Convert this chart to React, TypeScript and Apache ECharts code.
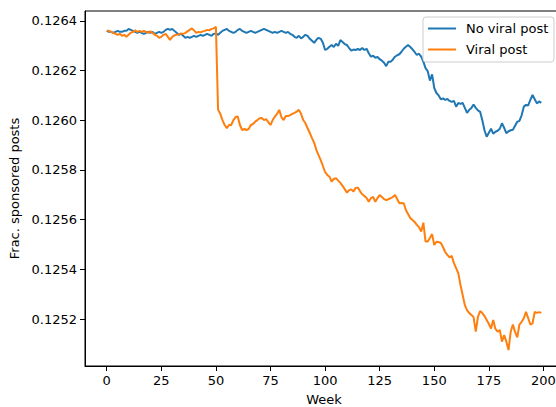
import React, { useEffect, useRef } from "react";
import * as echarts from "echarts";

const weeks: number[] = Array.from({ length: 200 }, (_, i) => i);

const noViralPost: number[] = [
  0.12636, 0.126356, 0.126356, 0.126352, 0.126356, 0.12636, 0.126356, 0.126356, 0.12636, 0.12636,
  0.126368, 0.126364, 0.12636, 0.126356, 0.126352, 0.126356, 0.126352, 0.126348, 0.126352, 0.126356,
  0.126352, 0.126356, 0.126348, 0.126352, 0.126356, 0.126352, 0.126356, 0.126364, 0.126368, 0.126364,
  0.126368, 0.12636, 0.126352, 0.126344, 0.126348, 0.12634, 0.126332, 0.126336, 0.126332, 0.126336,
  0.12634, 0.126336, 0.12634, 0.126344, 0.12634, 0.126344, 0.126348, 0.126344, 0.12634, 0.126348,
  0.12635, 0.126344, 0.126352, 0.12636, 0.126364, 0.126368, 0.12636, 0.126356, 0.126352, 0.126356,
  0.126364, 0.126368, 0.12636, 0.126356, 0.126352, 0.126356, 0.12636, 0.126356, 0.126352, 0.126356,
  0.12636, 0.126364, 0.126368, 0.126364, 0.12636, 0.126356, 0.126352, 0.126356, 0.126352, 0.126356,
  0.12636, 0.126356, 0.126352, 0.126356, 0.126348, 0.126344, 0.126336, 0.126332, 0.12634, 0.12633,
  0.126336, 0.126344, 0.12634, 0.126328, 0.12632, 0.126312, 0.126324, 0.126332, 0.126328, 0.126312,
  0.126283, 0.126288, 0.126296, 0.126303, 0.126295, 0.126308, 0.1263, 0.126323, 0.126315, 0.126307,
  0.126303, 0.126291, 0.12628, 0.126285, 0.126283, 0.126287, 0.126283, 0.126291, 0.126283, 0.126288,
  0.12627, 0.126256, 0.12626, 0.126252, 0.126255, 0.126246, 0.12624, 0.126232, 0.126218, 0.126236,
  0.126236, 0.126244, 0.126256, 0.126262, 0.126266, 0.126276, 0.126288, 0.126296, 0.126303, 0.126295,
  0.126286, 0.126275, 0.126263, 0.126268, 0.126256, 0.126236, 0.12621, 0.126198, 0.12616, 0.126185,
  0.12613, 0.12611, 0.1261, 0.126085, 0.126088, 0.126082, 0.126086, 0.126078, 0.126074, 0.126078,
  0.126055, 0.12607, 0.126066, 0.12607, 0.12605, 0.12603, 0.126042, 0.12605, 0.126064, 0.12605,
  0.12604, 0.126034, 0.126, 0.12596, 0.125934, 0.12595, 0.125966, 0.125946, 0.125954, 0.125958,
  0.125966, 0.125988, 0.12597, 0.125948, 0.125956, 0.12596, 0.125962, 0.125978, 0.125994, 0.125998,
  0.12602, 0.126055, 0.126062, 0.12606, 0.126082, 0.126102, 0.126085, 0.126068, 0.126076, 0.12607,
];

const viralPost: number[] = [
  0.12636, 0.12636, 0.126356, 0.126352, 0.126348, 0.126344, 0.126348, 0.12634, 0.126344, 0.126336,
  0.126344, 0.126352, 0.126356, 0.126362, 0.126356, 0.12636, 0.126356, 0.12636, 0.126356, 0.126352,
  0.126358, 0.126352, 0.126345, 0.12634, 0.126332, 0.126336, 0.126344, 0.126348, 0.126336, 0.126324,
  0.126336, 0.126342, 0.126344, 0.126346, 0.12635, 0.126348, 0.126352, 0.126358, 0.126364, 0.12637,
  0.126362, 0.126352, 0.126356, 0.126354, 0.126358, 0.12636, 0.126364, 0.126362, 0.126368, 0.12637,
  0.126376, 0.126042, 0.126026, 0.126001, 0.125981, 0.125968, 0.125981, 0.125981, 0.126001, 0.126013,
  0.126015, 0.125981, 0.125961, 0.125965, 0.125961, 0.125965, 0.125981, 0.125985, 0.125995, 0.126001,
  0.126008, 0.126009, 0.126001, 0.126005, 0.125993, 0.125981, 0.126001, 0.126015, 0.126026, 0.126042,
  0.126013, 0.126001, 0.126017, 0.126017, 0.126021, 0.126026, 0.12603, 0.126035, 0.126042, 0.126026,
  0.126001, 0.125988, 0.125968, 0.125949, 0.125928, 0.125909, 0.125881, 0.12586, 0.12584, 0.125816,
  0.125792, 0.12578, 0.125773, 0.125753, 0.125764, 0.125767, 0.125757, 0.125748, 0.125736, 0.125723,
  0.125709, 0.125719, 0.125722, 0.125713, 0.125728, 0.125729, 0.125715, 0.125702, 0.125695, 0.125687,
  0.125672, 0.125687, 0.125692, 0.125672, 0.125687, 0.125699, 0.125691, 0.125683, 0.125679, 0.125682,
  0.125687, 0.125691, 0.125699, 0.125683, 0.125666, 0.125667, 0.125666, 0.125639, 0.125623, 0.125607,
  0.125599, 0.125591, 0.125579, 0.12557, 0.125552, 0.125588, 0.125512, 0.125512, 0.125526, 0.125542,
  0.125498, 0.125511, 0.12551, 0.125506, 0.12549, 0.12547, 0.125458, 0.125448, 0.125454, 0.125425,
  0.125405, 0.125385, 0.125337, 0.125297, 0.125256, 0.125236, 0.125224, 0.125216, 0.125208, 0.125149,
  0.125209, 0.125232, 0.125224, 0.125212, 0.125196, 0.12518, 0.125162, 0.125196, 0.12516, 0.125149,
  0.125156, 0.125109, 0.125136, 0.125109, 0.125075, 0.125149, 0.125178, 0.125148, 0.125126, 0.125178,
  0.125189, 0.125203, 0.125229, 0.125204, 0.125178, 0.125183, 0.125229, 0.125225, 0.125228, 0.125225,
];

const xTicks: number[] = [0, 25, 50, 75, 100, 125, 150, 175, 200];
const yTicks: number[] = [0.1252, 0.1254, 0.1256, 0.1258, 0.126, 0.1262, 0.1264];
const seriesNames: string[] = ["No viral post", "Viral post"];
const colors: string[] = ["#1f77b4", "#ff7f0e"];

const FONT = "'DejaVu Sans', sans-serif";

export default function App() {
  const ref = useRef<HTMLDivElement>(null);

  useEffect(() => {
    if (!ref.current) return;
    const chart = echarts.init(ref.current, undefined, { renderer: "svg" });

    const toPairs = (vals: number[]) => weeks.map((w, i) => [w, vals[i]]);

    const legendX = 423;
    const legendY = 17;

    chart.setOption({
      animation: false,
      backgroundColor: "#fff",
      grid: {
        left: 85,
        top: 11,
        width: 478,
        height: 355,
        outerBoundsMode: "none",
        containLabel: false,
        show: true,
        borderColor: "#000",
        borderWidth: 1,
        backgroundColor: "transparent",
      },
      xAxis: {
        type: "value",
        min: -9.95,
        max: 208.95,
        name: "Week",
        nameLocation: "middle",
        nameGap: 27,
        nameTextStyle: { fontFamily: FONT, fontSize: 13, color: "#000" },
        axisLine: { show: true, onZero: false, lineStyle: { color: "#000", width: 1 } },
        axisTick: {
          show: true,
          length: 5,
          lineStyle: { color: "#000", width: 1 },
          customValues: xTicks,
        },
        axisLabel: {
          fontFamily: FONT,
          fontSize: 13,
          color: "#000",
          margin: 8,
          customValues: xTicks,
          formatter: (v: number) => String(v),
        },
        splitLine: { show: false },
      },
      yAxis: {
        type: "value",
        min: 0.125011,
        max: 0.12644,
        name: "Frac. sponsored posts",
        nameLocation: "middle",
        nameGap: 63,
        nameRotate: 90,
        nameTextStyle: { fontFamily: FONT, fontSize: 13, color: "#000" },
        axisLine: { show: true, onZero: false, lineStyle: { color: "#000", width: 1 } },
        axisTick: {
          show: true,
          length: 5,
          lineStyle: { color: "#000", width: 1 },
          customValues: yTicks,
        },
        axisLabel: {
          fontFamily: FONT,
          fontSize: 13,
          color: "#000",
          margin: 8,
          customValues: yTicks,
          formatter: (v: number) => v.toFixed(4),
        },
        splitLine: { show: false },
      },
      series: [
        {
          name: seriesNames[0],
          type: "line",
          data: toPairs(noViralPost),
          showSymbol: false,
          symbol: "none",
          lineStyle: { color: colors[0], width: 2 },
          itemStyle: { color: colors[0] },
        },
        {
          name: seriesNames[1],
          type: "line",
          data: toPairs(viralPost),
          showSymbol: false,
          symbol: "none",
          lineStyle: { color: colors[1], width: 2 },
          itemStyle: { color: colors[1] },
        },
      ],
      graphic: [
        {
          type: "rect",
          shape: { x: legendX, y: legendY, width: 131, height: 45, r: 3 },
          style: { fill: "rgba(255,255,255,0.8)", stroke: "#cccccc", lineWidth: 1 },
          z: 100,
        },
        {
          type: "line",
          shape: { x1: 428, y1: 28.5, x2: 456, y2: 28.5 },
          style: { stroke: colors[0], lineWidth: 2 },
          z: 101,
        },
        {
          type: "line",
          shape: { x1: 428, y1: 49.5, x2: 456, y2: 49.5 },
          style: { stroke: colors[1], lineWidth: 2 },
          z: 101,
        },
        {
          type: "text",
          x: 466,
          y: 28.5,
          style: {
            text: seriesNames[0],
            fontFamily: FONT,
            fontSize: 13,
            fill: "#000",
            verticalAlign: "middle",
            align: "left",
          },
          z: 101,
        },
        {
          type: "text",
          x: 466,
          y: 49.5,
          style: {
            text: seriesNames[1],
            fontFamily: FONT,
            fontSize: 13,
            fill: "#000",
            verticalAlign: "middle",
            align: "left",
          },
          z: 101,
        },
      ],
    });

    return () => chart.dispose();
  }, []);

  return (
    <div
      ref={ref}
      style={{ position: "fixed", left: 0, top: 0, width: 556, height: 407 }}
    />
  );
}
